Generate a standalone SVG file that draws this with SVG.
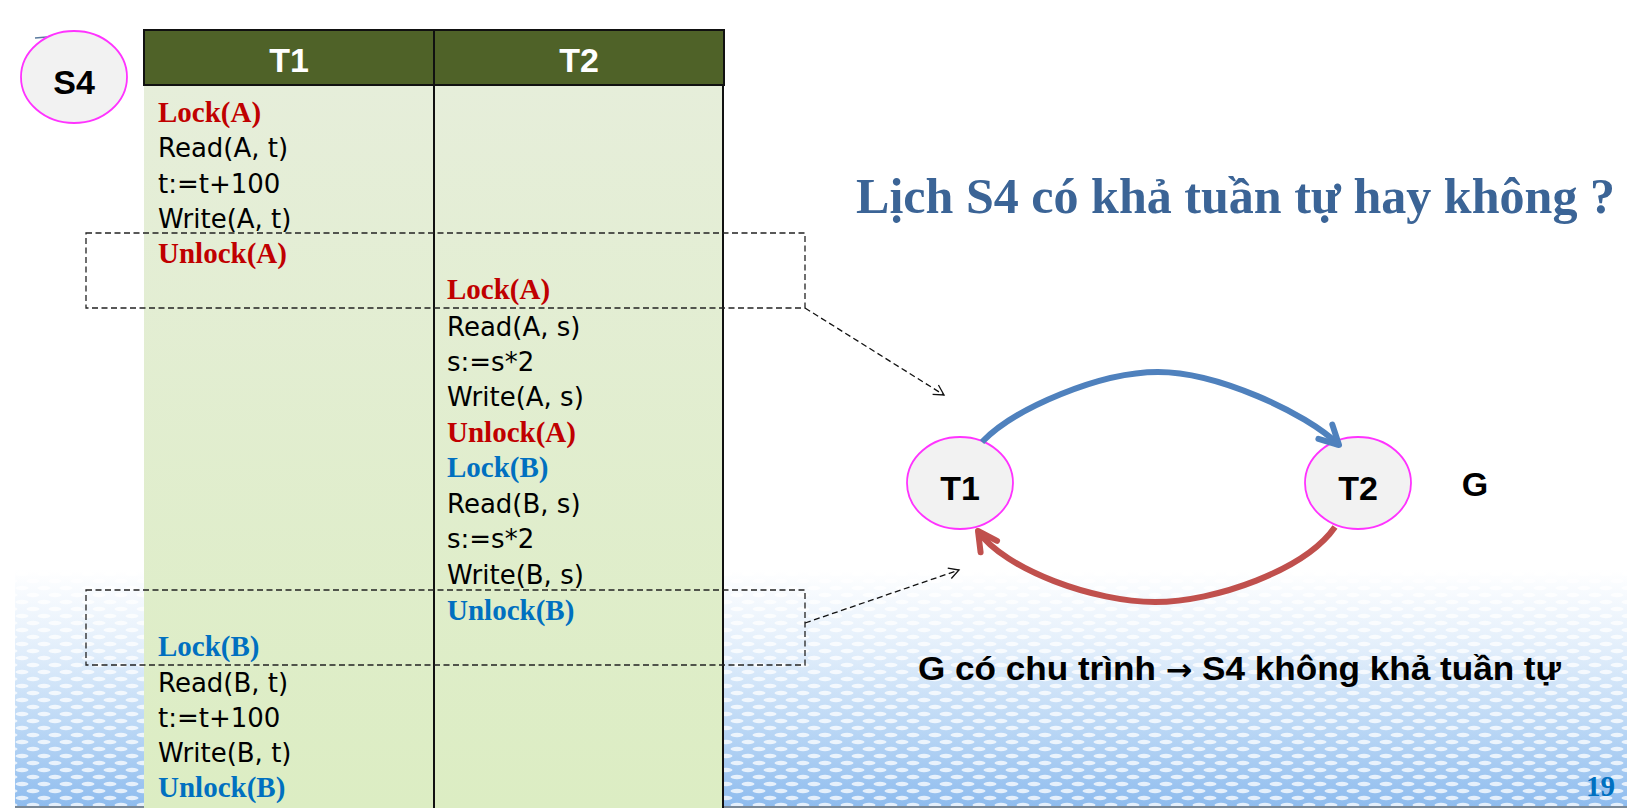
<svg xmlns="http://www.w3.org/2000/svg" width="1627" height="808" viewBox="0 0 1627 808">
  <style>
    .code { font-family: "DejaVu Sans", "Liberation Sans", sans-serif; font-size: 26px; fill: #000; }
    .kw { font-family: "Liberation Serif", serif; font-weight: bold; font-size: 29px; }
    .red { fill: #C00000; }
    .blue { fill: #0070C0; }
    .hdr { font-family: "Liberation Sans", sans-serif; font-weight: bold; font-size: 34px; fill: #fff; text-anchor: middle; }
    .lbl { font-family: "Liberation Sans", sans-serif; font-weight: bold; font-size: 34px; fill: #000; text-anchor: middle; }
    .node { fill: #F2F2F2; stroke: #FF33FF; stroke-width: 1.8; }
    .dbox { fill: none; stroke: #222; stroke-width: 1.3; stroke-dasharray: 6 3.5; }
    .darrow { fill: none; stroke: #111; stroke-width: 1.3; stroke-dasharray: 6 3.5; }
  </style>
  <defs>
    <linearGradient id="bgBlue" x1="0" y1="570" x2="0" y2="808" gradientUnits="userSpaceOnUse">
      <stop offset="0" stop-color="#A9CDF3" stop-opacity="0"/>
      <stop offset="0.3" stop-color="#A9CDF3" stop-opacity="0.3"/>
      <stop offset="0.65" stop-color="#9FC7F1" stop-opacity="0.7"/>
      <stop offset="1" stop-color="#8DBBEE" stop-opacity="1"/>
    </linearGradient>
    <pattern id="dots" width="22" height="14" patternUnits="userSpaceOnUse">
      <ellipse cx="0" cy="0" rx="6.5" ry="2.2" fill="#fff"/>
      <ellipse cx="22" cy="0" rx="6.5" ry="2.2" fill="#fff"/>
      <ellipse cx="0" cy="14" rx="6.5" ry="2.2" fill="#fff"/>
      <ellipse cx="22" cy="14" rx="6.5" ry="2.2" fill="#fff"/>
      <ellipse cx="11" cy="7" rx="6.5" ry="2.2" fill="#fff"/>
    </pattern>
    <linearGradient id="bodyGrad" x1="0" y1="85" x2="0" y2="808" gradientUnits="userSpaceOnUse">
      <stop offset="0" stop-color="#E6EEDA"/>
      <stop offset="1" stop-color="#DCEDC3"/>
    </linearGradient>
    <marker id="ahBlue" markerUnits="userSpaceOnUse" markerWidth="50" markerHeight="50" viewBox="-30 -25 50 50" refX="0" refY="0" orient="auto">
      <path d="M-19,-10 L0,0 L-19,10" fill="none" stroke="#4F81BD" stroke-width="6" stroke-linecap="round" stroke-linejoin="round"/>
    </marker>
    <marker id="ahRed" markerUnits="userSpaceOnUse" markerWidth="50" markerHeight="50" viewBox="-30 -25 50 50" refX="0" refY="0" orient="auto">
      <path d="M-19,-10 L0,0 L-19,10" fill="none" stroke="#C0504D" stroke-width="6" stroke-linecap="round" stroke-linejoin="round"/>
    </marker>
    <marker id="ahDash" markerUnits="userSpaceOnUse" markerWidth="30" markerHeight="30" viewBox="-15 -15 30 30" refX="0" refY="0" orient="auto">
      <path d="M-10,-5.5 L0,0 L-10,5.5" fill="none" stroke="#111" stroke-width="1.3"/>
    </marker>
  </defs>

  <rect x="0" y="0" width="1627" height="808" fill="#fff"/>

  <!-- decorative background -->
  <g id="background">
    <rect x="15" y="570" width="1612" height="238" fill="url(#bgBlue)"/>
    <rect x="15" y="570" width="1612" height="238" fill="url(#dots)" opacity="0.75"/>
    <line x1="15" y1="807" x2="1627" y2="807" stroke="#7A8896" stroke-width="2"/>
  </g>

  <!-- S4 label -->
  <g id="s4">
    <line x1="35" y1="38" x2="47" y2="37" stroke="#5A7A9E" stroke-width="1.5"/>
    <ellipse class="node" cx="74" cy="77" rx="53" ry="46"/>
    <text class="lbl" x="74" y="94">S4</text>
  </g>

  <!-- schedule table -->
  <g id="table">
    <rect x="144" y="85" width="580" height="723" fill="url(#bodyGrad)"/>
    <rect x="144" y="30" width="580" height="55" fill="#4F6228" stroke="#111" stroke-width="2"/>
    <line x1="434" y1="30" x2="434" y2="808" stroke="#111" stroke-width="2"/>
    <line x1="723" y1="85" x2="723" y2="808" stroke="#111" stroke-width="2"/>
    <text class="hdr" x="289" y="72">T1</text>
    <text class="hdr" x="579" y="72">T2</text>

    <text class="kw red" x="158" y="122">Lock(A)</text>
    <text class="code" x="158" y="157">Read(A, t)</text>
    <text class="code" x="158" y="193">t:=t+100</text>
    <text class="code" x="158" y="228">Write(A, t)</text>
    <text class="kw red" x="158" y="263">Unlock(A)</text>

    <text class="kw red" x="447" y="299">Lock(A)</text>
    <text class="code" x="447" y="336">Read(A, s)</text>
    <text class="code" x="447" y="371">s:=s*2</text>
    <text class="code" x="447" y="406">Write(A, s)</text>
    <text class="kw red" x="447" y="442">Unlock(A)</text>
    <text class="kw blue" x="447" y="477">Lock(B)</text>
    <text class="code" x="447" y="513">Read(B, s)</text>
    <text class="code" x="447" y="548">s:=s*2</text>
    <text class="code" x="447" y="584">Write(B, s)</text>
    <text class="kw blue" x="447" y="620">Unlock(B)</text>

    <text class="kw blue" x="158" y="656">Lock(B)</text>
    <text class="code" x="158" y="692">Read(B, t)</text>
    <text class="code" x="158" y="727">t:=t+100</text>
    <text class="code" x="158" y="762">Write(B, t)</text>
    <text class="kw blue" x="158" y="797">Unlock(B)</text>
  </g>

  <!-- title -->
  <g id="title">
    <text x="856" y="213" font-family="Liberation Serif, serif" font-weight="bold" font-size="50" fill="#3B6496" textLength="759" lengthAdjust="spacingAndGlyphs">Lịch S4 có khả tuần tự hay không ?</text>
  </g>

  <!-- graph nodes -->
  <g id="nodeT1">
    <ellipse class="node" cx="960" cy="483" rx="53" ry="46"/>
    <text class="lbl" x="960" y="500" font-size="33">T1</text>
  </g>
  <g id="nodeT2">
    <ellipse class="node" cx="1358" cy="483" rx="53" ry="46"/>
    <text class="lbl" x="1358" y="500" font-size="33">T2</text>
  </g>
  <g id="labelG">
    <text class="lbl" x="1475" y="496" font-size="37">G</text>
  </g>

  <!-- connectors -->
  <g id="connectors">
    <rect class="dbox" x="86" y="233" width="719" height="75"/>
    <rect class="dbox" x="86" y="590" width="719" height="75"/>
    <path class="darrow" d="M805,308 L944,395" marker-end="url(#ahDash)"/>
    <path class="darrow" d="M805,623 L959,570" marker-end="url(#ahDash)"/>
    <path d="M982,442 C1015,408 1100,372 1158,372 C1216,372 1305,412 1339,445" fill="none" stroke="#4F81BD" stroke-width="6" marker-end="url(#ahBlue)"/>
    <path d="M1335,527 C1305,570 1215,602 1155,602 C1095,602 1005,570 978,531" fill="none" stroke="#C0504D" stroke-width="6" marker-end="url(#ahRed)"/>
  </g>

  <!-- conclusion -->
  <g id="conclusion">
    <text x="918" y="680" font-family="Liberation Sans, DejaVu Sans, sans-serif" font-weight="bold" font-size="33" fill="#000" textLength="643" lengthAdjust="spacingAndGlyphs">G có chu trình <tspan font-family="DejaVu Sans, sans-serif" font-size="30">→</tspan> S4 không khả tuần tự</text>
  </g>

  <g id="pageNumber">
    <text x="1586" y="796" font-family="Liberation Serif, serif" font-weight="bold" font-size="29" fill="#0070C0">19</text>
  </g>
</svg>
